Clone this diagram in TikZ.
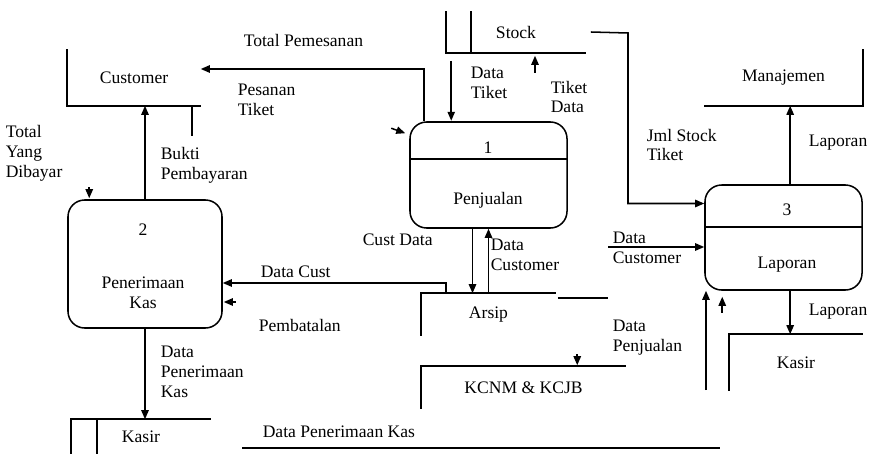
\documentclass[tikz,border=0pt]{standalone}
\usepackage{fontspec}
\setmainfont{Liberation Serif}
\usetikzlibrary{positioning,calc,arrows.meta}

\begin{document}
\begin{tikzpicture}[
    x=0.03cm, y=-0.03cm,
    line width=1.3pt,
    >={Triangle[length=0.27cm,width=0.22cm]},
    every node/.style={font=\fontsize{15}{17}\selectfont, inner sep=0pt},
    proc/.style={draw, rounded corners=0.5cm},
    lbl/.style={align=left, anchor=west}
  ]
  \useasboundingbox (0,0) rectangle (877,454);

  % Processes
  \node[proc, minimum width=4.71cm, minimum height=3.18cm] (p1) at (488.5,175) {};
  \node (p1id) at (488,148) {1};
  \node (p1name) at (488,200) {Penjualan};
  \draw ($(p1.north west)+(0,38)$) -- ($(p1.north east)+(0,38)$);
  \node[proc, minimum width=4.62cm, minimum height=3.84cm] (p2) at (145,264) {};
  \node (p2id) at (143,230) {2};
  \node[align=center] (p2name) at (143,293) {Penerimaan\\Kas};
  \node[proc, minimum width=4.71cm, minimum height=3.15cm] (p3) at (783.5,237.5) {};
  \node (p3id) at (787,210) {3};
  \node (p3name) at (787,265) {Laporan};
  \draw ($(p3.north west)+(0,43)$) -- ($(p3.north east)+(0,43)$);

  % Stores and entities
  \node[minimum width=3.96cm, minimum height=1.65cm] (customer) at (134,77.5) {Customer};
  \draw (customer.north west) -- (customer.south west) -- (customer.south east);
  \node[minimum width=4.14cm, minimum height=1.2cm] (stock) at (516,32) {Stock};
  \draw (stock.north west) -- (stock.south west) -- (stock.south east);
  \draw ($(stock.north west)+(25,0)$) -- ($(stock.south west)+(25,0)$);
  \node[minimum width=4.71cm, minimum height=1.65cm] (manajemen) at (783.5,77.5) {Manajemen};
  \draw (manajemen.south west) -- (manajemen.south east) -- (manajemen.north east);
  \node[minimum width=3.96cm, minimum height=1.65cm] (kasirR) at (796,362.5) {Kasir};
  \draw (kasirR.south west) -- (kasirR.north west) -- (kasirR.north east);
  \node[minimum width=3.99cm, minimum height=1.23cm] (arsip) at (488.5,314.5) {Arsip};
  \draw (arsip.south west) -- (arsip.north west) -- (arsip.north east);
  \node[minimum width=6.09cm, minimum height=1.23cm] (kcnm) at (523.5,387.5) {KCNM \& KCJB};
  \draw (kcnm.south west) -- (kcnm.north west) -- (kcnm.north east);
  \node[minimum width=4.14cm, minimum height=1.02cm] (kasirL) at (141,437) {Kasir};
  \draw (kasirL.south west) -- (kasirL.north west) -- (kasirL.north east);
  \draw ($(kasirL.north west)+(26,0)$) -- ($(kasirL.south west)+(26,0)$);

  % Free ends
  \coordinate (bendS) at (628,33);
  \coordinate (dcust) at (608,247);
  \coordinate (dpenj) at (706,390);
  \coordinate (dpkA) at (242,448);
  \coordinate (dpkB) at (720,448);

  % Flows
  \draw[->] ($(p1.north west)+(15,0)$) |- ($(customer.east)+(0,-8.5)$);
  \draw ($(customer.south east)+(-9,0)$) -- +(0,30);
  \draw[->] ($(p1.north west)+(-18,7)$) -- ($(p1.north west)+(-4,12)$);
  \draw[->] (p2.north) -- (p2.north |- customer.south);
  \draw[->] ($(p2.north west)+(22,-12)$) -- ($(p2.north west)+(22,-1)$);
  \draw[->] (p2.south) -- (p2.south |- kasirL.north);
  \draw[->] ($(arsip.north west)+(25,0)$) |- ($(p2.east)+(0,19)$);
  \draw[->] ($(p2.east)+(13,38)$) -- ($(p2.east)+(1,38)$);
  \draw[->] ([xshift=-0.48cm]p1.south) -- ([xshift=-0.48cm]p1.south |- arsip.north);
  \draw[->] (arsip.north) -- (arsip.north |- p1.south);
  \draw[->] ($(stock.south west)+(5,8)$) -- ($(stock.south west)+(5,68)$);
  \draw[->] ($(stock.south)+(19,20)$) -- ($(stock.south)+(19,3)$);
  \draw[->] ([xshift=0.15cm]stock.east) -- (bendS) |- ([yshift=1.02cm]p3.west);
  \draw[->] ([xshift=0.2cm]p3.north) -- ([xshift=0.2cm]p3.north |- manajemen.south);
  \draw[->] ([xshift=0.2cm]p3.south) -- ([xshift=0.2cm]p3.south |- kasirR.north);
  \draw[->] (dcust) -- (dcust -| p3.west);
  \draw[->] (dpenj) -- (dpenj |- p3.south);
  \draw[->] ($(p3.south west)+(18,22)$) -- ($(p3.south west)+(18,6)$);
  \draw ($(arsip.north east)+(2,5)$) -- ++(50,0);
  \draw[->] ($(kcnm.north west)+(156,-12)$) -- ($(kcnm.north west)+(156,-1)$);
  \draw (dpkA) -- (dpkB);

  % Flow labels
  \node[lbl] (lTotPem) at (243,40) {Total Pemesanan};
  \node[lbl] (lPesTik) at (237,100) {Pesanan\\Tiket};
  \node[lbl] (lTotBay) at (5,153) {Total\\Yang\\Dibayar};
  \node[lbl] (lBukti) at (160,165) {Bukti\\Pembayaran};
  \node[lbl] (lDPK) at (160,372) {Data\\Penerimaan\\Kas};
  \node[lbl] (lDataCust) at (260,272) {Data Cust};
  \node[lbl] (lBatal) at (258,325) {Pembatalan};
  \node[lbl] (lCustData) at (362,240) {Cust Data};
  \node[lbl] (lDCust1) at (490,255) {Data\\Customer};
  \node[lbl] (lDTiket) at (470,83) {Data\\Tiket};
  \node[lbl] (lTData) at (550,97) {Tiket\\Data};
  \node[lbl] (lJml) at (646,145) {Jml Stock\\Tiket};
  \node[lbl] (lLap1) at (808,143) {Laporan};
  \node[lbl] (lLap2) at (808,312) {Laporan};
  \node[lbl] (lDCust2) at (612,248) {Data\\Customer};
  \node[lbl] (lDPenj) at (612,338) {Data\\Penjualan};
  \node[lbl] (lDPK2) at (262,432) {Data Penerimaan Kas};
\end{tikzpicture}
\end{document}
